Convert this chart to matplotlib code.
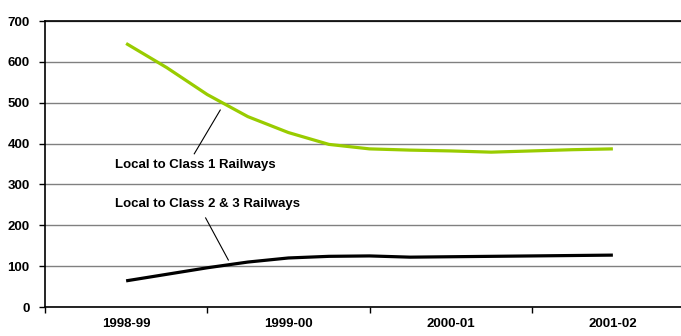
import numpy as np
import matplotlib
matplotlib.use("Agg")
import matplotlib.pyplot as plt
from matplotlib.ticker import FixedLocator, NullFormatter

plt.rcParams['font.family'] = ['Liberation Sans', 'DejaVu Sans']

years = ['1998-99', '1999-00', '2000-01', '2001-02']
# quarterly readings, from the start of 1998-99 to 2001-02
quarters = np.arange(13) * 0.25
class1 = [645, 586, 520, 466, 427, 398, 387, 384, 382, 379, 382, 385, 387]
class23 = [64, 80, 96, 110, 120, 124, 125, 122, 123, 124, 125, 126, 127]

fig = plt.figure(figsize=(6.81, 3.36), dpi=100)
ax = fig.add_axes([45 / 681, 29 / 336, 649 / 681, 286 / 336])

ax.plot(quarters, class1, color='#99cc00', lw=2.3, solid_capstyle='butt',
        solid_joinstyle='round')
ax.plot(quarters, class23, color='black', lw=2.3, solid_capstyle='butt',
        solid_joinstyle='round')

ax.set_xlim(-0.5, 3.5)
ax.set_ylim(0, 700)
ax.set_yticks(range(0, 701, 100))
ax.grid(axis='y', color='#808080', lw=1)
ax.set_axisbelow(True)

ax.set_xticks(range(len(years)))
ax.set_xticklabels(years, fontweight='bold', fontsize=9.5)
ax.tick_params(axis='x', which='major', length=0, pad=8)
ax.xaxis.set_minor_locator(FixedLocator([-0.5, 0.5, 1.5, 2.5, 3.5]))
ax.xaxis.set_minor_formatter(NullFormatter())
ax.tick_params(axis='x', which='minor', length=4, width=1, color='black')
ax.tick_params(axis='y', length=4, width=1, labelsize=9.5, pad=7)
for lbl in ax.get_yticklabels():
    lbl.set_fontweight('bold')

for s in ['left', 'bottom', 'top']:
    ax.spines[s].set_color('black')
    ax.spines[s].set_linewidth(1.2)
ax.spines['right'].set_visible(False)

# labels with leader lines
ax.text(-0.07, 347, 'Local to Class 1 Railways', fontsize=9.5, fontweight='bold',
        ha='left', va='center')
ax.plot([0.42, 0.58], [375, 482], color='black', lw=0.8)
ax.text(-0.07, 252, 'Local to Class 2 & 3 Railways', fontsize=9.5, fontweight='bold',
        ha='left', va='center')
ax.plot([0.49, 0.63], [218, 115], color='black', lw=0.8)

fig.savefig('out.png', dpi=100)
